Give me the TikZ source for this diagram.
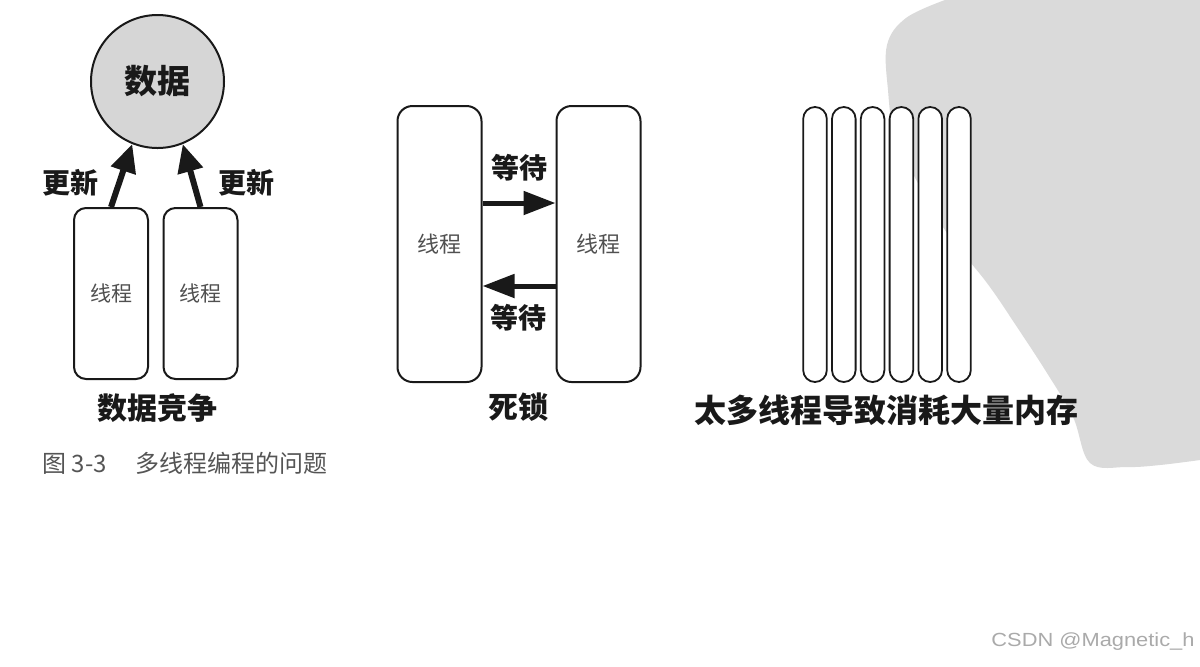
\documentclass[tikz,border=0pt]{standalone}
\usepackage{fontspec}
\setmainfont{Noto Sans CJK SC}
\newfontfamily\latinsans{Liberation Sans}
\usetikzlibrary{arrows.meta}
\definecolor{blobgray}{RGB}{218,218,218}
\definecolor{circgray}{RGB}{214,214,214}
\definecolor{inkblack}{RGB}{25,25,25}
\definecolor{thrgray}{RGB}{80,80,80}
\definecolor{capgray}{RGB}{85,85,85}
\definecolor{markgray}{RGB}{170,170,170}
\tikzset{
  thread/.style={draw=inkblack, line width=1pt, rounded corners=6pt, fill=white,
    minimum width=37pt, minimum height=85.5pt, inner sep=0pt,
    text=thrgray, font=\fontsize{10.5}{12}\selectfont},
  dthread/.style={draw=inkblack, line width=1pt, rounded corners=7.5pt, fill=white,
    minimum width=42pt, minimum height=138pt, inner sep=0pt,
    text=thrgray, font=\fontsize{11}{13}\selectfont},
  capsule/.style={draw=inkblack, line width=0.9pt, rounded corners=5.9pt, fill=white,
    minimum width=11.8pt, minimum height=137.5pt, inner sep=0pt},
  boldlabel/.style={text=inkblack, inner sep=0pt, font=\bfseries\fontsize{14}{16}\selectfont},
  titlelabel/.style={text=inkblack, inner sep=0pt, font=\bfseries\fontsize{15}{17}\selectfont},
  fatarrow/.style={draw=inkblack, line width=3pt, -{Triangle[length=14pt,width=12.5pt]}},
  waitarrow/.style={draw=inkblack, line width=2.5pt, -{Triangle[length=16pt,width=11.5pt]}}
}
\begin{document}
\begin{tikzpicture}[x=0.5pt, y=-0.5pt]
\useasboundingbox (0,0) rectangle (1200,666);
\fill[white] (0,0) rectangle (1200,666);

% watermark blob
\fill[blobgray] plot[smooth, tension=0.6] coordinates {(945,0) (906,18) (887,45) (888,90) (895,135) (920,187) (947,233) (987,283) (1017,327) (1047,373) (1073,417) (1090,463) (1127,467) (1160,465) (1200,460)} -- (1200,0) -- cycle;

% ---- panel 1: data race ----
\node[circle, draw=inkblack, line width=1pt, fill=circgray, minimum size=66.5pt, inner sep=0pt,
      font=\bfseries\fontsize{16.5}{18}\selectfont, text=inkblack] (data) at (157.5,81.5) {数据};
\node[thread] (t1) at (111,293.5) {线程};
\node[thread] (t2) at (200.5,293.5) {线程};
\draw[fatarrow] (t1.north) -- (data.248);
\draw[fatarrow] (t2.north) -- (data.292);
\node[boldlabel] (u1) at (70,183) {更新};
\node[boldlabel] (u2) at (246,183) {更新};
\node[titlelabel] (race) at (157,408) {数据竞争};
\node[anchor=west, inner sep=0pt, text=capgray, font=\fontsize{12}{14}\selectfont] (cap) at (42,463) {图 3-3\hspace{1.2em}多线程编程的问题};

% ---- panel 2: deadlock ----
\node[dthread] (d1) at (439.5,244) {线程};
\node[dthread] (d2) at (598.5,244) {线程};
\draw[waitarrow] ([yshift=20.5pt]d1.east) -- ([yshift=20.5pt]d2.west);
\draw[waitarrow] ([yshift=-21pt]d2.west) -- ([yshift=-21pt]d1.east);
\node[boldlabel] (w1) at (519,168) {等待};
\node[boldlabel] (w2) at (518,318) {等待};
\node[titlelabel] (dead) at (518,407) {死锁};

% ---- panel 3: too many threads ----
\foreach \i in {0,...,5} {
  \node[capsule] (c\i) at (815+28.8*\i,244.5) {};
}
\node[text=inkblack, inner sep=0pt, font=\bfseries\fontsize{16}{18}\selectfont] (mem) at (886,410) {太多线程导致消耗大量内存};

% ---- source mark ----
\node[anchor=east, inner sep=0pt, text=markgray, xscale=1.15, font=\latinsans\fontsize{9.5}{11}\selectfont] (csdn) at (1195,642) {CSDN @Magnetic\_h};
\end{tikzpicture}
\end{document}
